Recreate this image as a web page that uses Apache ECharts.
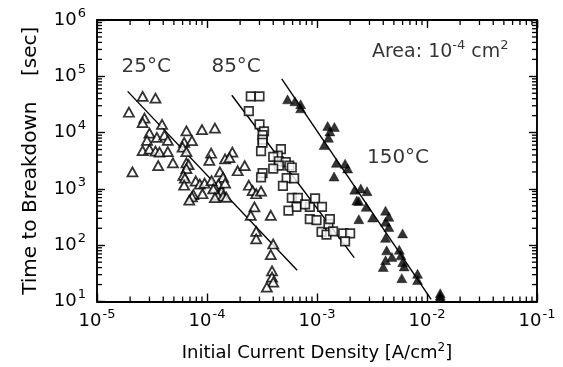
<!DOCTYPE html>
<html>
<head>
<meta charset="utf-8">
<script src="https://cdn.jsdelivr.net/npm/echarts@6/dist/echarts.min.js"></script>
<style>
  html, body { margin: 0; padding: 0; background: #fff; }
  #chart { width: 563px; height: 367px; }
</style>
</head>
<body>
<div id="chart"></div>
<script>
// Time to breakdown vs. initial current density, three temperatures
const xRange = [1e-5, 1e-1];
const yRange = [1e1, 1e6];

// 25 °C (open triangles)
const t25 = [
  [1.95e-5, 2.3e4], [2.6e-5, 4.4e4], [3.4e-5, 4.1e4], [2.7e-5, 1.8e4], [2.6e-5, 1.5e4],
  [3.9e-5, 1.4e4], [3.0e-5, 9.8e3], [3.5e-5, 8.2e3], [4.1e-5, 9.0e3], [4.4e-5, 7.3e3],
  [2.85e-5, 7.3e3], [6.5e-5, 1.07e4], [9.0e-5, 1.13e4], [1.18e-4, 1.2e4], [6.2e-5, 6.7e3],
  [7.3e-5, 7.2e3], [6.0e-5, 5.5e3], [6.5e-5, 4.6e3], [2.6e-5, 4.8e3], [3.0e-5, 5.1e3],
  [3.4e-5, 4.7e3], [3.7e-5, 4.5e3], [4.4e-5, 4.6e3], [1.09e-4, 4.3e3], [1.7e-4, 4.5e3],
  [1.46e-4, 3.4e3], [1.6e-4, 3.6e3], [1.05e-4, 3.2e3], [4.9e-5, 2.9e3], [3.6e-5, 2.6e3],
  [2.1e-5, 2.0e3], [6.5e-5, 2.9e3], [6.8e-5, 2.7e3], [6.5e-5, 2.3e3], [6.1e-5, 1.74e3],
  [6.3e-5, 1.56e3], [6.2e-5, 1.16e3], [7.9e-5, 1.38e3], [8.6e-5, 1.22e3], [9.5e-5, 1.27e3],
  [1.31e-4, 2.0e3], [1.4e-4, 1.6e3], [1.27e-4, 1.22e3], [1.18e-4, 1.04e3], [1.36e-4, 910],
  [7.5e-5, 790], [7.3e-5, 720], [9.1e-5, 820], [1.25e-4, 770], [1.4e-4, 740],
  [1.9e-4, 2.1e3], [2.2e-4, 2.6e3], [1.1e-4, 1.4e3], [1.14e-4, 1.0e3], [1.18e-4, 700],
  [1.46e-4, 1.27e3], [1.5e-4, 710], [2.4e-4, 1.16e3], [2.6e-4, 930], [2.8e-4, 820],
  [3.1e-4, 910], [2.7e-4, 480], [2.5e-4, 340], [3.8e-4, 340], [2.8e-4, 176],
  [2.8e-4, 129], [4.0e-4, 105], [3.8e-4, 68], [3.9e-4, 35], [3.9e-4, 27],
  [4.0e-4, 22], [3.5e-4, 18], [6.9e-5, 630]
];

// 85 °C (open squares)
const t85 = [
  [2.5e-4, 4.4e4], [3.0e-4, 4.4e4], [2.4e-4, 2.4e4], [3.0e-4, 1.4e4], [3.3e-4, 1.05e4],
  [3.2e-4, 9.0e3], [3.2e-4, 7.5e3], [3.2e-4, 6.6e3], [3.1e-4, 4.7e3], [4.7e-4, 5.1e3],
  [4.4e-4, 3.9e3], [4.0e-4, 3.7e3], [4.5e-4, 3.1e3], [5.2e-4, 3.0e3], [5.6e-4, 2.6e3],
  [4.5e-4, 2.6e3], [5.9e-4, 2.4e3], [4.0e-4, 2.3e3], [3.2e-4, 1.9e3], [3.1e-4, 1.6e3],
  [5.3e-4, 1.56e3], [6.2e-4, 1.54e3], [4.9e-4, 1.13e3], [5.9e-4, 690], [6.7e-4, 690],
  [6.5e-4, 480], [5.5e-4, 410], [8.6e-4, 480], [9.6e-4, 680], [1.11e-3, 480],
  [8.6e-4, 290], [9.9e-4, 280], [1.1e-3, 172], [1.27e-3, 240], [1.22e-3, 154],
  [1.31e-3, 290], [1.4e-3, 176], [1.73e-3, 162], [2.0e-3, 162], [1.8e-3, 117],
  [7.8e-4, 530]
];

// 150 °C (filled triangles)
const t150 = [
  [5.4e-4, 3.9e4], [6.3e-4, 3.6e4], [7.1e-4, 3.2e4], [7.1e-4, 2.7e4], [1.25e-3, 1.31e4],
  [1.44e-3, 1.26e4], [1.31e-3, 1.05e4], [1.27e-3, 8.1e3], [1.16e-3, 6.0e3], [1.5e-3, 2.9e3],
  [1.8e-3, 2.8e3], [1.9e-3, 2.3e3], [1.43e-3, 1.66e3], [2.2e-3, 970], [2.5e-3, 1.02e3],
  [2.85e-3, 910], [2.3e-3, 620], [2.4e-3, 610], [2.8e-3, 480], [2.4e-3, 290],
  [3.2e-3, 310], [4.2e-3, 410], [4.5e-3, 320], [4.2e-3, 260], [4.5e-3, 210],
  [4.2e-3, 135], [6.0e-3, 162], [4.3e-3, 81], [5.6e-3, 83], [4.8e-3, 62],
  [4.2e-3, 54], [4.0e-3, 41], [5.8e-3, 66], [6.0e-3, 50], [6.2e-3, 42],
  [5.9e-3, 26], [8.2e-3, 31], [8.2e-3, 24], [1.32e-2, 14], [1.32e-2, 12.7],
  [1.32e-2, 11.7]
];

// Fitted lines (end points)
const fit25 = [[1.9e-5, 5.4e4], [6.6e-4, 36]];
const fit85 = [[1.68e-4, 4.6e4], [2.18e-3, 60]];
const fit150 = [[4.78e-4, 9.0e4], [1.09e-2, 10.9]];

// Annotation anchors
const notes = [
  { text: '25°C', at: [2.8e-5, 1.47e5], align: 'center' },
  { text: '85°C', at: [1.84e-4, 1.47e5], align: 'center' },
  { text: '150°C', at: [5.45e-3, 3.57e3], align: 'center' },
  { text: 'Area: 10{s|-4} cm{s|2}', at: [3.16e-3, 2.7e5], align: 'left' }
];

// Minor tick values (2..9 within each decade)
const minorX = [];
for (let e = -5; e < -1; e++) for (let m = 2; m <= 9; m++) minorX.push(m * Math.pow(10, e));
const minorY = [];
for (let e = 1; e < 6; e++) for (let m = 2; m <= 9; m++) minorY.push(m * Math.pow(10, e));

const FONT = 'DejaVu Sans';
const INK = '#000';

function powLabel(v) {
  const e = Math.round(Math.log10(v));
  return '{b|10}{s|' + e + '}';
}
const richPow = {
  b: { fontSize: 18, fontFamily: FONT, color: INK },
  s: { fontSize: 13, fontFamily: FONT, color: INK, padding: [0, 0, 13, 1] }
};

function axisCommon(pos, showLabel) {
  return {
    type: 'log',
    logBase: 10,
    position: pos,
    axisLine: { show: true, onZero: false, lineStyle: { color: INK, width: 1.9 } },
    axisTick: { show: true, inside: true, length: 8, lineStyle: { color: INK, width: 1.4 } },
    axisLabel: { show: showLabel, formatter: powLabel, rich: richPow },
    splitLine: { show: false },
    minorTick: { show: false }
  };
}

const chart = echarts.init(document.getElementById('chart'), null, { renderer: 'canvas' });

function minorTickSeries(values, horizontal) {
  return {
    type: 'custom',
    silent: true,
    clip: false,
    xAxisIndex: 0,
    yAxisIndex: 0,
    data: values.map(v => horizontal ? [v, yRange[0]] : [xRange[0], v]),
    renderItem: function (params, api) {
      const len = 5;
      const style = { stroke: INK, lineWidth: 1.3 };
      if (horizontal) {
        const v = api.value(0);
        const a = api.coord([v, yRange[0]]);
        const b = api.coord([v, yRange[1]]);
        return {
          type: 'group',
          children: [
            { type: 'line', shape: { x1: a[0], y1: a[1], x2: a[0], y2: a[1] - len }, style },
            { type: 'line', shape: { x1: b[0], y1: b[1], x2: b[0], y2: b[1] + len }, style }
          ]
        };
      }
      const v = api.value(1);
      const a = api.coord([xRange[0], v]);
      const b = api.coord([xRange[1], v]);
      return {
        type: 'group',
        children: [
          { type: 'line', shape: { x1: a[0], y1: a[1], x2: a[0] + len, y2: a[1] }, style },
          { type: 'line', shape: { x1: b[0], y1: b[1], x2: b[0] - len, y2: b[1] }, style }
        ]
      };
    },
    z: 5
  };
}

function fitSeries(pts) {
  return {
    type: 'line',
    data: pts,
    symbol: 'none',
    silent: true,
    lineStyle: { color: INK, width: 1.4 },
    z: 3
  };
}

const option = {
  animation: false,
  backgroundColor: '#fff',
  textStyle: { fontFamily: FONT, color: INK },
  grid: { left: 97, right: 26, top: 20, bottom: 62, containLabel: false },
  xAxis: [
    Object.assign(axisCommon('bottom', true), {
      min: xRange[0], max: xRange[1],
      axisLabel: { show: true, formatter: powLabel, rich: richPow, margin: 7 },
      name: 'Initial Current Density [A/cm{s|2}]',
      nameLocation: 'middle',
      nameGap: 40,
      nameTextStyle: {
        fontSize: 18, fontFamily: FONT, color: INK,
        rich: { s: { fontSize: 12, fontFamily: FONT, color: INK, padding: [0, 0, 11, 0] } }
      }
    }),
    Object.assign(axisCommon('top', false), { min: xRange[0], max: xRange[1] })
  ],
  yAxis: [
    Object.assign(axisCommon('left', true), {
      min: yRange[0], max: yRange[1],
      axisLabel: { show: true, formatter: powLabel, rich: richPow, margin: 11 },
      name: 'Time to Breakdown    [sec]',
      nameLocation: 'middle',
      nameGap: 56,
      nameTextStyle: { fontSize: 20, fontFamily: FONT, color: INK }
    }),
    Object.assign(axisCommon('right', false), { min: yRange[0], max: yRange[1] })
  ],
  series: [
    minorTickSeries(minorX, true),
    minorTickSeries(minorY, false),
    fitSeries(fit25),
    fitSeries(fit85),
    fitSeries(fit150),
    {
      name: '25°C',
      type: 'scatter',
      data: t25,
      symbol: 'triangle',
      symbolSize: [10, 9],
      itemStyle: { color: '#fff', borderColor: INK, borderWidth: 1.8 },
      z: 4
    },
    {
      name: '85°C',
      type: 'scatter',
      data: t85,
      symbol: 'rect',
      symbolSize: 8.5,
      itemStyle: { color: '#fff', borderColor: INK, borderWidth: 1.7 },
      z: 4
    },
    {
      name: '150°C',
      type: 'scatter',
      data: t150,
      symbol: 'triangle',
      symbolSize: [10, 9],
      itemStyle: { color: INK, borderColor: INK, borderWidth: 0.5 },
      z: 4
    },
    {
      type: 'scatter',
      silent: true,
      symbolSize: 0,
      data: notes.map(n => ({
        value: n.at,
        label: {
          show: true,
          position: n.align === 'left' ? 'right' : 'inside',
          distance: 0,
          formatter: n.text,
          fontSize: n.align === 'left' ? 19 : 20,
          fontFamily: FONT,
          color: INK,
          rich: { s: { fontSize: 13, fontFamily: FONT, color: INK, padding: [0, 0, 12, 0] } }
        }
      })),
      z: 6
    }
  ]
};

chart.setOption(option);
</script>
</body>
</html>
